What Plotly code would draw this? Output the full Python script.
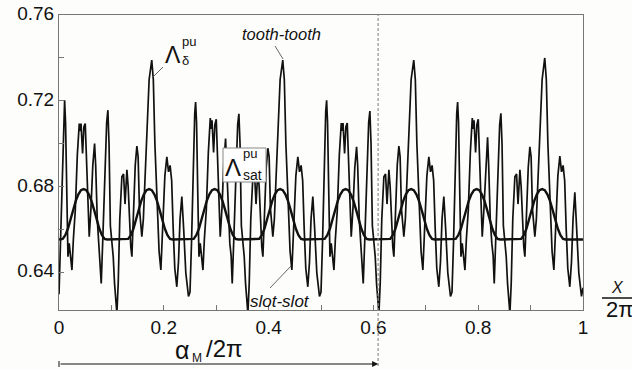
import plotly.graph_objects as go

# ---------------- data ----------------
period_starts = [0.0, 0.25, 0.5, 0.75]

tooth_offsets = [
    0.0000, 0.0030, 0.0060, 0.0090, 0.0107, 0.0125, 0.0150, 0.0171, 0.0195, 0.0220,
    0.0247, 0.0275, 0.0311, 0.0350, 0.0387, 0.0405, 0.0420, 0.0450, 0.0475, 0.0501,
    0.0525, 0.0555, 0.0577, 0.0610, 0.0645, 0.0679, 0.0700, 0.0730, 0.0760, 0.0785,
    0.0806, 0.0835, 0.0870, 0.0910, 0.0933, 0.0955, 0.0980, 0.1010, 0.1035, 0.1060,
    0.1085, 0.1105, 0.1130, 0.1160, 0.1200, 0.1232, 0.1260, 0.1296, 0.1320, 0.1345,
    0.1370, 0.1391, 0.1420, 0.1455, 0.1486, 0.1510, 0.1535, 0.1560, 0.1581, 0.1610,
    0.1640, 0.1680, 0.1720, 0.1770, 0.1800, 0.1830, 0.1870, 0.1910, 0.1944, 0.1980,
    0.2020, 0.2058, 0.2090, 0.2120, 0.2150, 0.2180, 0.2210, 0.2248, 0.2280, 0.2310,
    0.2344, 0.2380, 0.2420, 0.2471]

lam_delta_p1 = [
    0.6300, 0.6550, 0.6900, 0.7150, 0.7203, 0.7100, 0.6750, 0.6475, 0.6537, 0.6460,
    0.6413, 0.6560, 0.6692, 0.6950, 0.7095, 0.7060, 0.7095, 0.6955, 0.7080, 0.7095,
    0.6950, 0.6700, 0.6568, 0.6700, 0.6900, 0.7002, 0.6900, 0.6650, 0.6537, 0.6480,
    0.6351, 0.6550, 0.6850, 0.7100, 0.7157, 0.7000, 0.6620, 0.6537, 0.6475, 0.6351,
    0.6280, 0.6210, 0.6350, 0.6650, 0.6847, 0.6860, 0.6720, 0.6880, 0.6800, 0.6630,
    0.6520, 0.6475, 0.6650, 0.6900, 0.6990, 0.6940, 0.6700, 0.6630, 0.6568, 0.6650,
    0.6850, 0.7100, 0.7300, 0.7390, 0.7300, 0.7000, 0.6700, 0.6500, 0.6413, 0.6600,
    0.6850, 0.6940, 0.6870, 0.6900, 0.6830, 0.6600, 0.6420, 0.6335, 0.6450, 0.6650,
    0.6755, 0.6600, 0.6400, 0.6290]

lam_delta_p2 = [
    0.6310, 0.6550, 0.6900, 0.7140, 0.7195, 0.7100, 0.6750, 0.6475, 0.6537, 0.6460,
    0.6413, 0.6560, 0.6692, 0.6960, 0.7120, 0.7070, 0.7110, 0.6960, 0.7090, 0.7115,
    0.6950, 0.6700, 0.6568, 0.6700, 0.6910, 0.7025, 0.6900, 0.6650, 0.6537, 0.6480,
    0.6351, 0.6550, 0.6850, 0.7090, 0.7140, 0.7000, 0.6620, 0.6537, 0.6475, 0.6351,
    0.6280, 0.6210, 0.6350, 0.6650, 0.6847, 0.6860, 0.6720, 0.6880, 0.6800, 0.6630,
    0.6520, 0.6475, 0.6650, 0.6890, 0.6980, 0.6940, 0.6700, 0.6630, 0.6568, 0.6650,
    0.6850, 0.7100, 0.7300, 0.7390, 0.7300, 0.7000, 0.6700, 0.6500, 0.6413, 0.6600,
    0.6850, 0.6940, 0.6870, 0.6900, 0.6830, 0.6600, 0.6420, 0.6335, 0.6450, 0.6650,
    0.6755, 0.6600, 0.6400, 0.6290]

lam_delta_p3 = [
    0.6310, 0.6550, 0.6900, 0.7150, 0.7203, 0.7100, 0.6750, 0.6475, 0.6537, 0.6460,
    0.6413, 0.6560, 0.6692, 0.6950, 0.7097, 0.7060, 0.7097, 0.6955, 0.7080, 0.7097,
    0.6950, 0.6700, 0.6568, 0.6700, 0.6890, 0.6986, 0.6900, 0.6650, 0.6537, 0.6480,
    0.6351, 0.6550, 0.6850, 0.7100, 0.7153, 0.7000, 0.6620, 0.6537, 0.6475, 0.6351,
    0.6280, 0.6210, 0.6350, 0.6650, 0.6847, 0.6860, 0.6720, 0.6880, 0.6800, 0.6630,
    0.6520, 0.6475, 0.6650, 0.6900, 0.6990, 0.6940, 0.6700, 0.6630, 0.6568, 0.6650,
    0.6850, 0.7100, 0.7300, 0.7390, 0.7300, 0.7000, 0.6700, 0.6500, 0.6413, 0.6600,
    0.6850, 0.6940, 0.6870, 0.6900, 0.6830, 0.6600, 0.6420, 0.6335, 0.6450, 0.6650,
    0.6755, 0.6600, 0.6400, 0.6290]

lam_delta_p4 = [
    0.6310, 0.6550, 0.6900, 0.7140, 0.7195, 0.7100, 0.6750, 0.6475, 0.6537, 0.6460,
    0.6413, 0.6560, 0.6692, 0.6960, 0.7120, 0.7070, 0.7110, 0.6960, 0.7090, 0.7115,
    0.6950, 0.6700, 0.6568, 0.6700, 0.6910, 0.7031, 0.6900, 0.6650, 0.6537, 0.6480,
    0.6351, 0.6550, 0.6850, 0.7090, 0.7142, 0.7000, 0.6620, 0.6537, 0.6475, 0.6351,
    0.6280, 0.6210, 0.6350, 0.6650, 0.6847, 0.6860, 0.6720, 0.6880, 0.6800, 0.6630,
    0.6520, 0.6475, 0.6650, 0.6890, 0.6986, 0.6940, 0.6700, 0.6630, 0.6568, 0.6650,
    0.6850, 0.7100, 0.7300, 0.7400, 0.7300, 0.7000, 0.6700, 0.6500, 0.6413, 0.6600,
    0.6850, 0.6943, 0.6870, 0.6900, 0.6830, 0.6600, 0.6420, 0.6335, 0.6450, 0.6650,
    0.6775, 0.6600, 0.6400, 0.6290]

lam_delta_end = (1.0, 0.6330)

sat_peaks = [0.047, 0.172, 0.297, 0.422, 0.547, 0.672, 0.797, 0.922]
sat_bump_offsets = [-0.045, -0.040, -0.035, -0.030, -0.025, -0.020, -0.015, -0.010, -0.005, 0.0,
                    0.005, 0.010, 0.015, 0.020, 0.025, 0.030, 0.035, 0.040, 0.045]
sat_bump_values = [0.6555, 0.6558, 0.6575, 0.6605, 0.6648, 0.6693, 0.6735, 0.6765, 0.6785, 0.6790,
                   0.6785, 0.6765, 0.6735, 0.6693, 0.6648, 0.6605, 0.6575, 0.6558, 0.6555]
sat_floor = 0.6555

x_ticks = [0, 0.1, 0.2, 0.3, 0.4, 0.5, 0.6, 0.7, 0.8, 0.9, 1.0]
x_ticktext = ["0", "", "0.2", "", "0.4", "", "0.6", "", "0.8", "", "1"]
y_ticks = [0.64, 0.66, 0.68, 0.70, 0.72, 0.74, 0.76]
y_ticktext = ["0.64", "", "0.68", "", "0.72", "", "0.76"]
y_range = [0.6227, 0.76]
alpha_m = 0.609

# ---------------- build series ----------------
dx, dy = [], []
for start, vals in zip(period_starts, [lam_delta_p1, lam_delta_p2, lam_delta_p3, lam_delta_p4]):
    for o, v in zip(tooth_offsets, vals):
        dx.append(start + o)
        dy.append(v)
dx.append(lam_delta_end[0])
dy.append(lam_delta_end[1])

sx, sy = [0.0], [sat_floor]
for p in sat_peaks:
    for o, v in zip(sat_bump_offsets, sat_bump_values):
        sx.append(p + o)
        sy.append(v)
sx.append(1.0)
sy.append(sat_floor)

# ---------------- figure ----------------
W, H = 632, 369
PL, PR, PT, PB = 59, 583, 15, 310          # plot area in page pixels
ML, MT, MR, MB = PL, PT, W - PR, H - PB
PW, PH = PR - PL, PB - PT
FONT = "Liberation Sans, Arial, sans-serif"
BG = "#fdfdfb"


def P(px, py):
    return (px - PL) / PW, (PB - py) / PH


fig = go.Figure()
fig.add_trace(go.Scatter(x=dx, y=dy, mode="lines",
                         line=dict(color="#111111", width=1.7), hoverinfo="skip"))
fig.add_trace(go.Scatter(x=sx, y=sy, mode="lines",
                         line=dict(color="#111111", width=2.4), hoverinfo="skip"))

shapes = []


def seg(p0, p1, color="#555555", width=0.9):
    x0, y0 = P(*p0)
    x1, y1 = P(*p1)
    shapes.append(dict(type="line", xref="paper", yref="paper", x0=x0, y0=y0, x1=x1, y1=y1,
                       line=dict(color=color, width=width), layer="above"))


seg((163, 67), (153, 77))
seg((275, 46), (283, 59))
seg((270, 288), (291, 266))
bx0, by0 = P(223, 148)
bx1, by1 = P(266, 182)
shapes.append(dict(type="rect", xref="paper", yref="paper", x0=bx0, y0=by1, x1=bx1, y1=by0,
                   fillcolor="white", line=dict(color="#888888", width=1), layer="above"))
shapes.append(dict(type="line", xref="x", yref="paper", x0=alpha_m, x1=alpha_m,
                   y0=P(0, 366)[1], y1=1,
                   line=dict(color="#909090", width=1.2, dash="3px,2px"),
                   layer="above"))
seg((59, 361), (59, 367), color="#111111", width=1)
seg((602, 298), (632, 298), color="#111111", width=1.5)

annotations = []


def txt(text, px, py, size, xanchor="center"):
    x, y = P(px, py)
    annotations.append(dict(text=text, x=x, y=y, xref="paper", yref="paper", showarrow=False,
                            xanchor=xanchor, yanchor="middle",
                            font=dict(family=FONT, size=size, color="#111111")))


txt("Λ", 172.5, 55, 23)
txt("pu", 189, 41.5, 13)
txt("δ", 185.5, 61, 13)
txt("<i>tooth-tooth</i>", 281.5, 34, 16.5)
txt("Λ", 233, 167.5, 24)
txt("pu", 250, 153.5, 13)
txt("sat", 252, 174.5, 14)
txt("<i>slot-slot</i>", 280, 301, 17)
txt("α", 181.5, 350, 25)
txt("M", 197, 357.5, 12)
txt("/2π", 224, 348.5, 24)
txt("<i>X</i>", 617, 287.5, 16)
txt("2π", 604, 309, 22, xanchor="left")

annotations.append(dict(text="", x=alpha_m, y=P(0, 364)[1], xref="x", yref="paper",
                        showarrow=True, ax=-(alpha_m * PW), ay=0,
                        axref="pixel", ayref="pixel", arrowhead=2, arrowsize=1.2,
                        arrowwidth=1, arrowcolor="#111111", standoff=0))

fig.update_layout(
    width=W, height=H, margin=dict(l=ML, r=MR, t=MT, b=MB, pad=0, autoexpand=False),
    paper_bgcolor=BG, plot_bgcolor=BG, showlegend=False,
    font=dict(family=FONT, size=19, color="#111111"),
    shapes=shapes, annotations=annotations,
    xaxis=dict(range=[0, 1], tickvals=x_ticks, ticktext=x_ticktext, ticks="inside",
               ticklen=5, tickcolor="#777777", showline=True, linecolor="#777777",
               linewidth=1, mirror=True, showgrid=False, zeroline=False,
               ticklabeloverflow="allow",
               tickfont=dict(size=19, color="#111111")),
    yaxis=dict(range=y_range, tickvals=y_ticks, ticktext=y_ticktext, ticks="inside",
               ticklen=5, tickcolor="#777777", showline=True, linecolor="#777777",
               linewidth=1, mirror=True, showgrid=False, zeroline=False,
               ticklabeloverflow="allow", ticklabelshift=-2,
               tickfont=dict(size=19, color="#111111")),
)

# remove the browser's default 8px body margin so the figure fills the window exactly
fig.write_html("out.html",
               config={"displayModeBar": False, "staticPlot": True},
               post_script="document.body.style.margin='0';document.body.style.overflow='hidden';")
